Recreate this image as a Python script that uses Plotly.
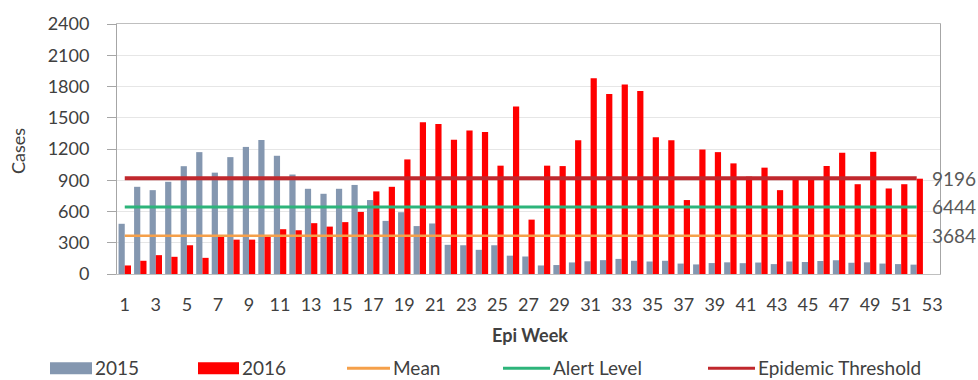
import plotly.graph_objects as go

weeks = list(range(1, 53))
cases_2015 = [482, 837, 805, 885, 1035, 1170, 973, 1122, 1220, 1287,
              1135, 955, 818, 770, 818, 855, 710, 510, 593, 460,
              485, 280, 276, 232, 276, 176, 168, 82, 86, 111,
              122, 133, 145, 127, 120, 127, 100, 92, 105, 112,
              104, 110, 95, 120, 115, 125, 132, 108, 112, 100,
              95, 90]
cases_2016 = [82, 127, 181, 165, 276, 155, 371, 330, 330, 364,
              430, 420, 488, 455, 498, 596, 793, 837, 1100, 1458,
              1440, 1290, 1378, 1363, 1040, 1608, 522, 1040, 1036, 1283,
              1880, 1727, 1820, 1757, 1313, 1284, 710, 1195, 1170, 1062,
              935, 1021, 805, 910, 915, 1037, 1164, 862, 1173, 821,
              862, 915]
mean_level = 368.4
alert_level = 644.4
epidemic_threshold = 919.6
level_labels = ["3684", "6444", "9196"]
x_ticks = list(range(1, 54, 2))
y_ticks = list(range(0, 2401, 300))

C2015 = "#8497B0"
C2016 = "#FF0000"
CMEAN = "#F5A04A"
CALERT = "#2DB47A"
CTHR = "#C0282D"
TXT = "#404040"
FONT = "Lato, Liberation Sans, sans-serif"

fig = go.Figure()
fig.add_trace(go.Bar(x=weeks, y=cases_2015, name="2015", marker=dict(color=C2015, line_width=0)))
fig.add_trace(go.Bar(x=weeks, y=cases_2016, name="2016", marker=dict(color=C2016, line_width=0)))
fig.add_trace(go.Scatter(x=weeks, y=[mean_level] * len(weeks), mode="lines", name="Mean",
                         line=dict(color=CMEAN, width=2.5)))
fig.add_trace(go.Scatter(x=weeks, y=[alert_level] * len(weeks), mode="lines", name="Alert Level",
                         line=dict(color=CALERT, width=3)))
fig.add_trace(go.Scatter(x=weeks, y=[epidemic_threshold] * len(weeks), mode="lines", name="Epidemic Threshold",
                         line=dict(color=CTHR, width=4)))

L, R, T, B = 117, 38, 22, 106
W, H = 978, 380
PW, PH = W - L - R, H - T - B


def px(x):
    return (x - L) / PW


def py(y):
    return (H - B - y) / PH


shapes = []
annotations = []

# manual legend
legend_items = [
    ("rect", C2015, 50, 92, "2015"),
    ("rect", C2016, 198, 239, "2016"),
    ("line", CMEAN, 347, 390, "Mean"),
    ("line", CALERT, 503, 550, "Alert Level"),
    ("line", CTHR, 708, 755, "Epidemic Threshold"),
]
ly = 369
for kind, col, x0, x1, label in legend_items:
    if kind == "rect":
        shapes.append(dict(type="rect", xref="paper", yref="paper", x0=px(x0), x1=px(x1),
                           y0=py(ly + 6), y1=py(ly - 6), fillcolor=col, line_width=0))
    else:
        shapes.append(dict(type="line", xref="paper", yref="paper", x0=px(x0), x1=px(x1),
                           y0=py(ly), y1=py(ly), line=dict(color=col, width=3)))
    annotations.append(dict(xref="paper", yref="paper", x=px(x1 + 2), y=py(ly - 1), text=label,
                            showarrow=False, xanchor="left", yanchor="middle", borderpad=0,
                            font=dict(family=FONT, size=19, color=TXT)))

# level labels at right
for val, lab in zip([mean_level, alert_level, epidemic_threshold], level_labels):
    annotations.append(dict(xref="paper", yref="y", x=px(931), y=val, text=lab, showarrow=False,
                            xanchor="left", yanchor="middle", borderpad=0,
                            font=dict(family=FONT, size=19, color="#595959")))

# axis titles
annotations.append(dict(xref="paper", yref="paper", x=px(18), y=py(150), text="Cases", textangle=-90,
                        showarrow=False, xanchor="center", yanchor="middle",
                        font=dict(family=FONT, size=18, color=TXT)))
annotations.append(dict(xref="paper", yref="paper", x=px(530), y=py(335), text="<b>Epi Week</b>",
                        showarrow=False, xanchor="center", yanchor="middle",
                        font=dict(family=FONT, size=18, color=TXT)))

fig.update_layout(
    width=W, height=H,
    margin=dict(l=L, r=R, t=T, b=B, pad=0),
    barmode="group", bargap=0.2, bargroupgap=0,
    plot_bgcolor="white", paper_bgcolor="white",
    showlegend=False,
    font=dict(family=FONT, size=18, color=TXT),
    shapes=shapes, annotations=annotations,
)
fig.update_xaxes(range=[0.5, 53.5], tickmode="array", tickvals=x_ticks,
                 ticktext=[str(t) for t in x_ticks], showgrid=False,
                 showline=True, linecolor="#BFBFBF", linewidth=1, mirror=True,
                 ticks="", ticklabelstandoff=14, tickfont=dict(size=18, color=TXT))
fig.update_yaxes(range=[0, 2400], tickmode="array", tickvals=y_ticks,
                 showgrid=True, gridcolor="#E6E6E6", gridwidth=1,
                 showline=True, linecolor="#A6A6A6", linewidth=1, mirror=True,
                 ticks="outside", ticklen=9, tickcolor="#A6A6A6",
                 ticklabelstandoff=14, zeroline=False, tickfont=dict(size=18, color=TXT))

fig.write_html("out.html")
